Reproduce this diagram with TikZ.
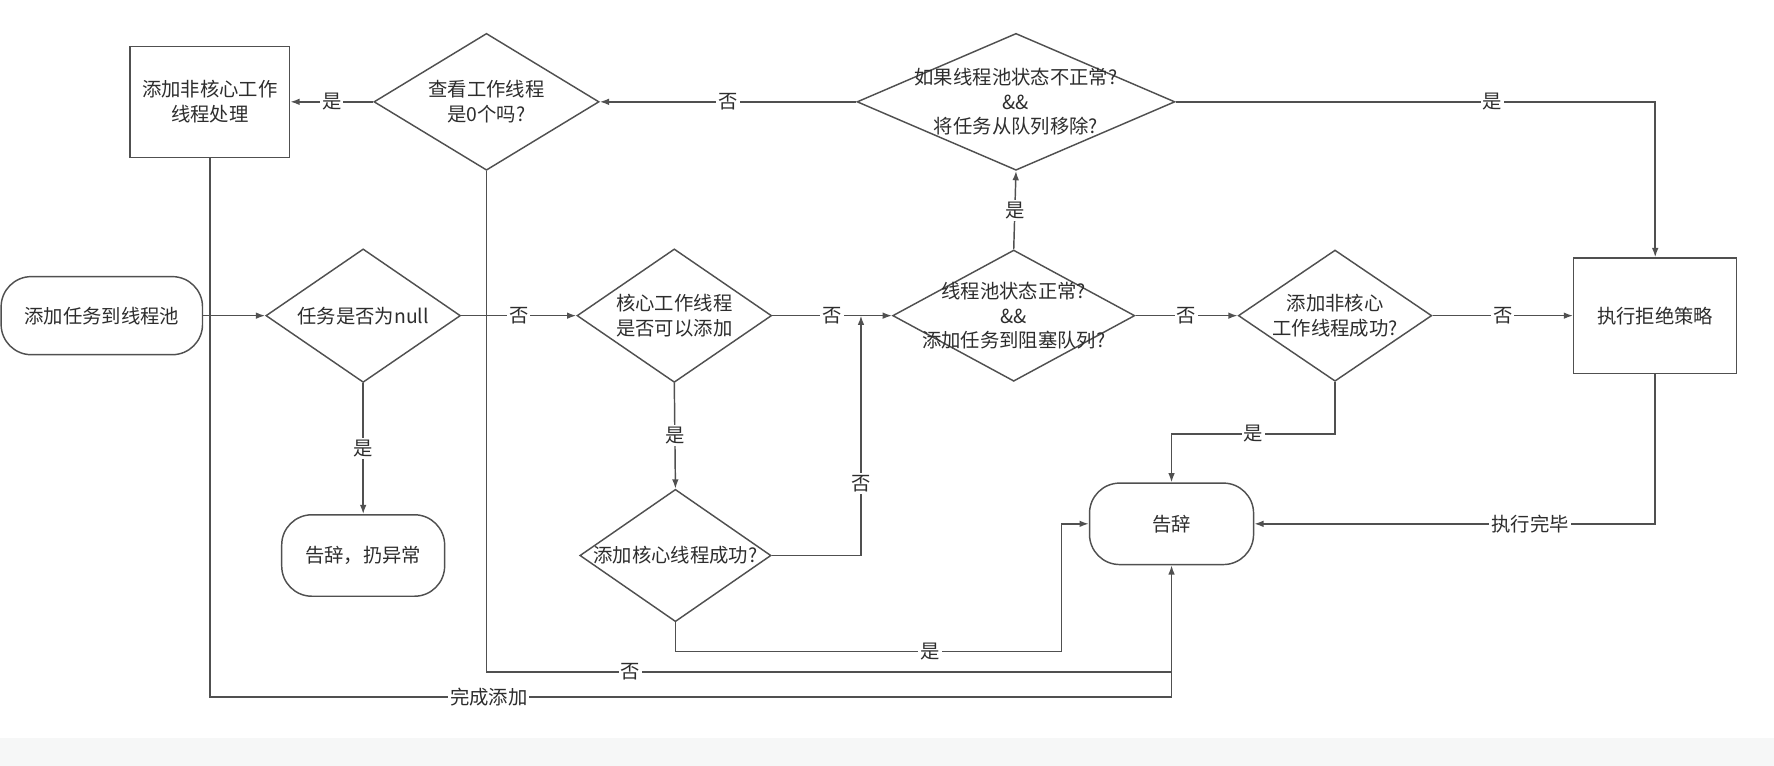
\documentclass[tikz,border=0pt]{standalone}
\usepackage{fontspec}
\setmainfont{Noto Sans CJK SC}
\usetikzlibrary{shapes.geometric,arrows.meta}
\definecolor{linegray}{RGB}{80,80,80}
\definecolor{txtgray}{RGB}{45,45,45}
\definecolor{bandgray}{RGB}{246,247,247}
\newcommand{\pxu}{0.03cm}
\begin{document}
\begin{tikzpicture}[x=0.03cm, y=-0.03cm,
        every node/.style={font=\fontsize{14.6}{18.5}\selectfont, text=txtgray},
        term/.style={rectangle, draw=linegray, line width=1.1pt, rounded corners=0.8cm, minimum width=144*\pxu, minimum height=72*\pxu, align=center},
        proc/.style={rectangle, draw=linegray, line width=1.1pt, align=center},
        decide/.style={diamond, draw=linegray, line width=1.1pt, inner sep=0pt},
        flow/.style={draw=linegray, line width=1.1pt, -{Latex[length=7pt, width=5pt]}},
        plain/.style={draw=linegray, line width=1.1pt},
        cond/.style={fill=white, inner sep=1.5pt}
    ]
        \useasboundingbox (0,0) rectangle (1568,677);
        \fill[bandgray] (0,652) rectangle (1568,677);

        % main row
        \node[term, minimum width=178*\pxu, minimum height=69*\pxu] (start) at (90,279) {添加任务到线程池};
        \node[decide, minimum width=172*\pxu, minimum height=118*\pxu, label={center:{任务是否为null}}] (isnull) at (321,279) {};
        \node[decide, minimum width=172*\pxu, minimum height=118*\pxu, label={[align=center]center:{核心工作线程\\是否可以添加}}] (core) at (596,279) {};
        \node[decide, minimum width=214*\pxu, minimum height=116*\pxu, label={[align=center]center:{线程池状态正常?\\\&\&\\添加任务到阻塞队列?}}] (state) at (896,279) {};
        \node[decide, minimum width=171*\pxu, minimum height=116*\pxu, label={[align=center]center:{添加非核心\\工作线程成功?}}] (nocore) at (1180,279) {};
        \node[proc, minimum width=144*\pxu, minimum height=102*\pxu] (reject) at (1463,279) {执行拒绝策略};

        % top row
        \node[decide, minimum width=281*\pxu, minimum height=121*\pxu, label={[align=center]center:{如果线程池状态不正常?\\\&\&\\将任务从队列移除?}}] (broken) at (898,90) {};
        \node[decide, minimum width=199*\pxu, minimum height=121*\pxu, label={[align=center]center:{查看工作线程\\是0个吗?}}] (zero) at (430,90) {};
        \node[proc, minimum width=141*\pxu, minimum height=98*\pxu] (addw) at (185.5,90) {添加非核心工作\\线程处理};

        % bottom row
        \node[term] (byeex) at (321,491) {告辞，扔异常};
        \node[decide, minimum width=169*\pxu, minimum height=117*\pxu, label={center:{添加核心线程成功?}}] (coreok) at (597,491) {};
        \node[term, minimum width=145*\pxu] (bye) at (1035.5,463) {告辞};

        \coordinate (merge) at (761,279);
        \coordinate (okturn) at (938,576);

        % connections
        \draw[flow] (start.east) -- (isnull.west);
        \draw[flow] (isnull.east) -- node[cond] {否} (core.west);
        \draw[flow] (isnull.south) -- node[cond] {是} (byeex.north);
        \draw[flow] (core.east) -- node[cond] {否} (state.west);
        \draw[flow] (core.south) -- node[cond] {是} (coreok.north);
        \draw[flow] (coreok.east) -| node[cond, pos=0.65] {否} (merge);
        \draw[flow] (coreok.south) |- node[cond, pos=0.83] {是} (okturn) |- (bye.west);
        \draw[flow] (state.north) -- node[cond] {是} (broken.south);
        \draw[flow] (state.east) -- node[cond] {否} (nocore.west);
        \draw[flow] (nocore.east) -- node[cond] {否} (reject.west);
        \draw[flow] (nocore.south) -- ++(0,46) -| node[cond, pos=0.25] {是} (bye.north);
        \draw[flow] (broken.west) -- node[cond] {否} (zero.east);
        \draw[flow] (broken.east) -| node[cond, pos=0.33] {是} (reject.north);
        \draw[flow] (zero.west) -- node[cond] {是} (addw.east);
        \draw[plain] (zero.south) |- node[cond, pos=0.605] {否} (bye.south |- 0,594);
        \draw[flow] (addw.south) |- node[cond, pos=0.645] {完成添加} (bye.south |- 0,616) -- (bye.south);
        \draw[flow] (reject.south) |- node[cond, pos=0.656] {执行完毕} (bye.east);
    \end{tikzpicture}
\end{document}
